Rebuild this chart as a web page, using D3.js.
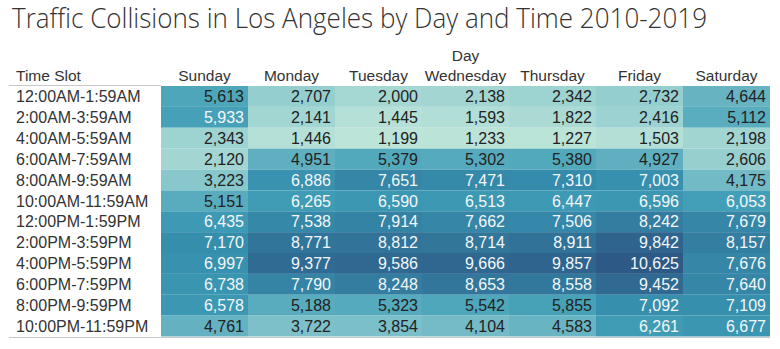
<!DOCTYPE html>
<html>
<head>
<meta charset="utf-8">
<script src="https://cdn.jsdelivr.net/npm/d3@7"></script>
<style>
  html, body { margin: 0; padding: 0; background: #fff; }
  svg { display: block; }
</style>
</head>
<body>
<div id="chart"></div>
<script>
const days = ['Sunday', 'Monday', 'Tuesday', 'Wednesday', 'Thursday', 'Friday', 'Saturday'];
const timeSlots = [
  '12:00AM-1:59AM', '2:00AM-3:59AM', '4:00AM-5:59AM', '6:00AM-7:59AM',
  '8:00AM-9:59AM', '10:00AM-11:59AM', '12:00PM-1:59PM', '2:00PM-3:59PM',
  '4:00PM-5:59PM', '6:00PM-7:59PM', '8:00PM-9:59PM', '10:00PM-11:59PM'
];
// one array per day, rows in timeSlots order
const sunday    = [5613, 5933, 2343, 2120, 3223, 5151, 6435, 7170, 6997, 6738, 6578, 4761];
const monday    = [2707, 2141, 1446, 4951, 6886, 6265, 7538, 8771, 9377, 7790, 5188, 3722];
const tuesday   = [2000, 1445, 1199, 5379, 7651, 6590, 7914, 8812, 9586, 8248, 5323, 3854];
const wednesday = [2138, 1593, 1233, 5302, 7471, 6513, 7662, 8714, 9666, 8653, 5542, 4104];
const thursday  = [2342, 1822, 1227, 5380, 7310, 6447, 7506, 8911, 9857, 8558, 5855, 4583];
const friday    = [2732, 2416, 1503, 4927, 7003, 6596, 8242, 9842, 10625, 9452, 7092, 6261];
const saturday  = [4644, 5112, 2198, 2606, 4175, 6053, 7679, 8157, 7676, 7640, 7109, 6677];
const series = [sunday, monday, tuesday, wednesday, thursday, friday, saturday];

// Tableau "Blue-Teal" sequential ramp
const blueTeal = ['#bce4d8', '#aedcd5', '#a1d5d2', '#95cecf', '#89c8cc', '#7ec1ca', '#72bac6',
  '#66b2c2', '#59acbe', '#4ba5ba', '#419eb6', '#3b96b2', '#358ead', '#3586a7', '#347ea1',
  '#32779b', '#316f96', '#2f6790', '#2d608a', '#2c5985'];

const W = 780, H = 349;
const FONT = "'Liberation Sans', Arial, sans-serif";
const TEXT = '#333';

const cells = [];
series.forEach((vals, di) => vals.forEach((v, ti) => {
  cells.push({ day: days[di], slot: timeSlots[ti], value: v });
}));

const x = d3.scaleBand().domain(days).range([161, 770]);
const y = d3.scaleBand().domain(timeSlots).range([86, 336.5]);
const color = d3.scaleSequential(d3.interpolateRgbBasis(blueTeal))
  .domain(d3.extent(cells, d => d.value));

const svg = d3.select('#chart').append('svg')
  .attr('width', W).attr('height', H)
  .attr('viewBox', `0 0 ${W} ${H}`);

// Title
svg.append('text')
  .attr('x', 12).attr('y', 28)
  .attr('font-family', "'Open Sans', sans-serif")
  .attr('font-weight', 300)
  .attr('font-size', '27px')
  .attr('fill', TEXT)
  .attr('textLength', 695)
  .attr('lengthAdjust', 'spacingAndGlyphs')
  .text('Traffic Collisions in Los Angeles by Day and Time 2010-2019');

// Column header
svg.append('text')
  .attr('x', x('Wednesday') + x.bandwidth() / 2).attr('y', 60.5)
  .attr('text-anchor', 'middle')
  .attr('font-family', FONT).attr('font-size', '15.5px').attr('fill', TEXT)
  .text('Day');

svg.append('g').selectAll('text')
  .data(days).enter()
  .append('text')
  .attr('x', d => x(d) + x.bandwidth() / 2)
  .attr('y', 80.5)
  .attr('text-anchor', 'middle')
  .attr('font-family', FONT).attr('font-size', '15.5px').attr('fill', TEXT)
  .text(d => d);

svg.append('text')
  .attr('x', 16).attr('y', 80.5)
  .attr('font-family', FONT).attr('font-size', '15.5px').attr('fill', TEXT)
  .text('Time Slot');

// Cells
svg.append('g').selectAll('rect')
  .data(cells).enter()
  .append('rect')
  .attr('x', d => x(d.day))
  .attr('y', d => y(d.slot))
  .attr('width', x.bandwidth())
  .attr('height', y.bandwidth())
  .attr('fill', d => color(d.value));

// Row labels
svg.append('g').selectAll('text')
  .data(timeSlots).enter()
  .append('text')
  .attr('x', 16)
  .attr('y', d => y(d) + y.bandwidth() / 2)
  .attr('dy', '0.36em')
  .attr('font-family', FONT).attr('font-size', '16px').attr('fill', TEXT)
  .text(d => d);

// Cell values
const fmt = d3.format(',');
svg.append('g').selectAll('text')
  .data(cells).enter()
  .append('text')
  .attr('x', d => x(d.day) + x.bandwidth() - 4)
  .attr('y', d => y(d.slot) + y.bandwidth() / 2)
  .attr('dy', '0.36em')
  .attr('text-anchor', 'end')
  .attr('font-family', FONT).attr('font-size', '16px')
  .attr('fill', d => d.value > 5900 ? '#f4f7f9' : '#222')
  .text(d => fmt(d.value));

// Rules
svg.append('line')
  .attr('x1', 9).attr('x2', 161).attr('y1', 85.5).attr('y2', 85.5)
  .attr('stroke', '#c8c8c8').attr('stroke-width', 1);
svg.append('line')
  .attr('x1', 9).attr('x2', 770).attr('y1', 337.5).attr('y2', 337.5)
  .attr('stroke', '#c8c8c8').attr('stroke-width', 1);
</script>
</body>
</html>
